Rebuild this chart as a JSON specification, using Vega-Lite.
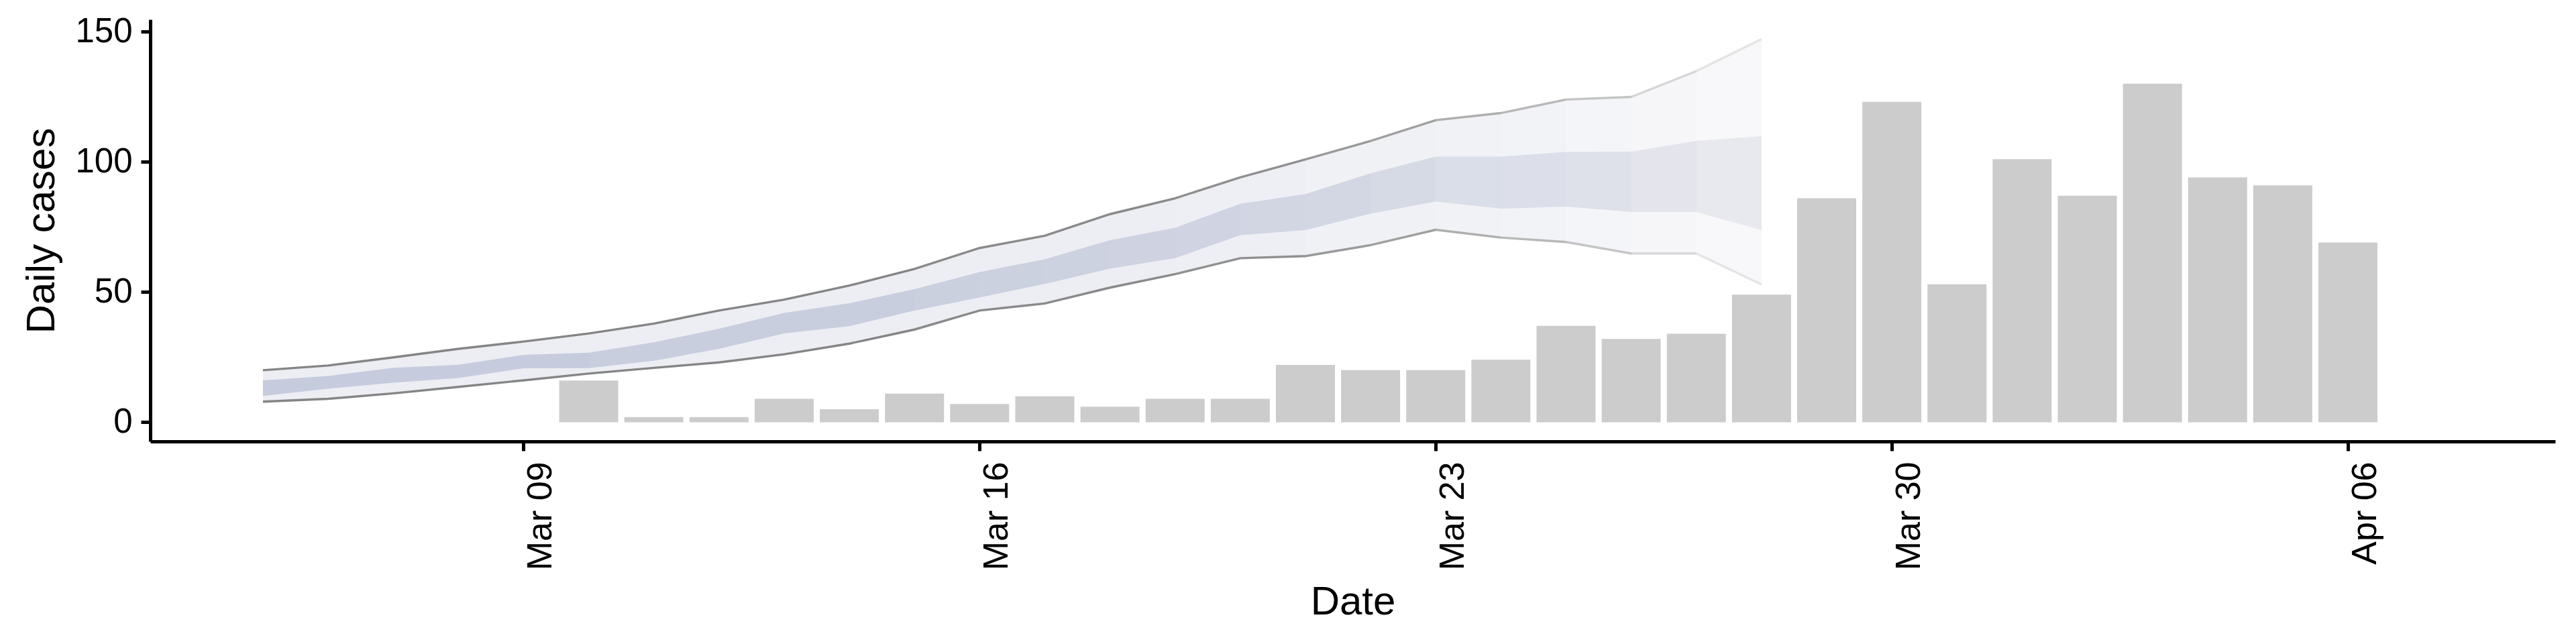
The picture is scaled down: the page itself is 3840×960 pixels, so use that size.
{
  "$schema": "https://vega.github.io/schema/vega-lite/v6.json",
  "width": 3585,
  "height": 629,
  "autosize": {"type": "none"},
  "padding": {"left": 224, "top": 29, "right": 31, "bottom": 302},
  "background": "white",
  "config": {
    "view": {"stroke": null},
    "font": "Liberation Sans",
    "axis": {
      "grid": false,
      "domainColor": "black",
      "domainWidth": 5,
      "tickColor": "black",
      "tickWidth": 5,
      "tickSize": 14,
      "labelFont": "Liberation Sans",
      "labelFontSize": 50,
      "labelColor": "black",
      "titleFont": "Liberation Sans",
      "titleFontSize": 60,
      "titleFontWeight": "normal",
      "titleColor": "black"
    }
  },
  "data": {
    "values": [
      {"date": "2020-03-05", "cases": null, "lo90": 7.9, "lo50": 10.1, "hi50": 16.1, "hi90": 20.0},
      {"date": "2020-03-06", "cases": null, "lo90": 9.0, "lo50": 12.9, "hi50": 17.8, "hi90": 21.8},
      {"date": "2020-03-07", "cases": null, "lo90": 11.1, "lo50": 15.2, "hi50": 20.9, "hi90": 24.9},
      {"date": "2020-03-08", "cases": null, "lo90": 13.6, "lo50": 17.0, "hi50": 22.1, "hi90": 28.2},
      {"date": "2020-03-09", "cases": null, "lo90": 16.1, "lo50": 20.7, "hi50": 25.9, "hi90": 31.0},
      {"date": "2020-03-10", "cases": 16, "lo90": 18.7, "lo50": 20.8, "hi50": 26.7, "hi90": 34.1},
      {"date": "2020-03-11", "cases": 2, "lo90": 20.9, "lo50": 23.6, "hi50": 30.7, "hi90": 37.9},
      {"date": "2020-03-12", "cases": 2, "lo90": 23.0, "lo50": 28.2, "hi50": 35.9, "hi90": 42.9},
      {"date": "2020-03-13", "cases": 9, "lo90": 26.1, "lo50": 34.1, "hi50": 42.0, "hi90": 47.1},
      {"date": "2020-03-14", "cases": 5, "lo90": 30.2, "lo50": 36.9, "hi50": 45.7, "hi90": 52.5},
      {"date": "2020-03-15", "cases": 11, "lo90": 35.6, "lo50": 42.9, "hi50": 51.1, "hi90": 58.9},
      {"date": "2020-03-16", "cases": 7, "lo90": 42.9, "lo50": 47.9, "hi50": 57.7, "hi90": 66.9},
      {"date": "2020-03-17", "cases": 10, "lo90": 45.6, "lo50": 53.1, "hi50": 62.6, "hi90": 71.6},
      {"date": "2020-03-18", "cases": 6, "lo90": 51.7, "lo50": 59.0, "hi50": 69.9, "hi90": 79.9},
      {"date": "2020-03-19", "cases": 9, "lo90": 56.9, "lo50": 63.0, "hi50": 74.7, "hi90": 86.0},
      {"date": "2020-03-20", "cases": 9, "lo90": 63.0, "lo50": 71.8, "hi50": 83.9, "hi90": 94.0},
      {"date": "2020-03-21", "cases": 22, "lo90": 63.8, "lo50": 73.8, "hi50": 87.6, "hi90": 100.9},
      {"date": "2020-03-22", "cases": 20, "lo90": 68.0, "lo50": 80.1, "hi50": 95.6, "hi90": 108.0},
      {"date": "2020-03-23", "cases": 20, "lo90": 73.9, "lo50": 84.7, "hi50": 102.0, "hi90": 116.0},
      {"date": "2020-03-24", "cases": 24, "lo90": 70.9, "lo50": 82.0, "hi50": 102.0, "hi90": 118.7},
      {"date": "2020-03-25", "cases": 37, "lo90": 69.2, "lo50": 82.8, "hi50": 103.8, "hi90": 123.9},
      {"date": "2020-03-26", "cases": 32, "lo90": 64.8, "lo50": 80.7, "hi50": 103.9, "hi90": 124.9},
      {"date": "2020-03-27", "cases": 34, "lo90": 64.8, "lo50": 80.7, "hi50": 108.0, "hi90": 134.8},
      {"date": "2020-03-28", "cases": 49, "lo90": 52.9, "lo50": 73.8, "hi50": 109.8, "hi90": 147.1},
      {"date": "2020-03-29", "cases": 86, "lo90": null, "lo50": null, "hi50": null, "hi90": null},
      {"date": "2020-03-30", "cases": 123, "lo90": null, "lo50": null, "hi50": null, "hi90": null},
      {"date": "2020-03-31", "cases": 53, "lo90": null, "lo50": null, "hi50": null, "hi90": null},
      {"date": "2020-04-01", "cases": 101, "lo90": null, "lo50": null, "hi50": null, "hi90": null},
      {"date": "2020-04-02", "cases": 87, "lo90": null, "lo50": null, "hi50": null, "hi90": null},
      {"date": "2020-04-03", "cases": 130, "lo90": null, "lo50": null, "hi50": null, "hi90": null},
      {"date": "2020-04-04", "cases": 94, "lo90": null, "lo50": null, "hi50": null, "hi90": null},
      {"date": "2020-04-05", "cases": 91, "lo90": null, "lo50": null, "hi50": null, "hi90": null},
      {"date": "2020-04-06", "cases": 69, "lo90": null, "lo50": null, "hi50": null, "hi90": null}
    ]
  },
  "encoding": {
    "x": {
      "field": "date",
      "type": "temporal",
      "scale": {
        "type": "utc",
        "domain": [
          {"year": 2020, "month": 3, "date": 3, "hours": 7, "minutes": 44, "utc": true},
          {"year": 2020, "month": 4, "date": 9, "hours": 3, "minutes": 7, "utc": true}
        ]
      },
      "axis": {
        "title": "Date",
        "values": [
          {"year": 2020, "month": 3, "date": 9, "utc": true},
          {"year": 2020, "month": 3, "date": 16, "utc": true},
          {"year": 2020, "month": 3, "date": 23, "utc": true},
          {"year": 2020, "month": 3, "date": 30, "utc": true},
          {"year": 2020, "month": 4, "date": 6, "utc": true}
        ],
        "format": "%b %d",
        "labelFontSize": 52,
        "titleFontSize": 60,
        "labelAngle": 270,
        "labelAlign": "right",
        "labelBaseline": "top",
        "labelPadding": 16,
        "labelFlush": false,
        "labelOverlap": false,
        "titleX": 1792.5,
        "titleY": 257,
        "titleAlign": "center",
        "titleBaseline": "alphabetic",
        "titleAnchor": null
      }
    }
  },
  "layer": [
    {
      "transform": [{"filter": "datum.cases != null"}],
      "mark": {"type": "bar", "size": 88, "color": "#CCCCCC"},
      "encoding": {
        "y": {
          "field": "cases",
          "type": "quantitative",
          "title": "Daily cases",
          "scale": {"domain": [-7.34, 154.64], "nice": false, "zero": false},
          "axis": {"values": [0, 50, 100, 150], "labelFontSize": 51, "titleFontSize": 60, "labelPadding": 13, "titleAngle": 270, "titleX": -144, "titleY": 314.5, "titleAlign": "center", "titleBaseline": "alphabetic", "titleAnchor": null}
        },
        "y2": {"datum": 0}
      }
    },
    {
      "mark": {
        "type": "area",
        "fill": {
          "gradient": "linear", "x1": 0, "y1": 0, "x2": 1, "y2": 0,
          "stops": [
            {"offset": 0, "color": "#ECEEF4"},
            {"offset": 0.43478, "color": "#ECEEF4"},
            {"offset": 0.43478, "color": "#EDEEF4"},
            {"offset": 0.6087, "color": "#EDEEF4"},
            {"offset": 0.6087, "color": "#EEEFF5"},
            {"offset": 0.69565, "color": "#EEEFF5"},
            {"offset": 0.69565, "color": "#F0F1F5"},
            {"offset": 0.78261, "color": "#F0F1F5"},
            {"offset": 0.78261, "color": "#F1F2F6"},
            {"offset": 0.82609, "color": "#F1F2F6"},
            {"offset": 0.82609, "color": "#F2F3F7"},
            {"offset": 0.86957, "color": "#F2F3F7"},
            {"offset": 0.86957, "color": "#F4F5F8"},
            {"offset": 0.91304, "color": "#F4F5F8"},
            {"offset": 0.91304, "color": "#F6F6F9"},
            {"offset": 0.95652, "color": "#F6F6F9"},
            {"offset": 0.95652, "color": "#F8F8FA"},
            {"offset": 1, "color": "#F8F8FA"}
          ]
        }
      },
      "encoding": {
        "y": {"field": "lo90", "type": "quantitative", "title": "Daily cases", "scale": {"domain": [-7.34, 154.64], "nice": false, "zero": false},
          "axis": {"values": [0, 50, 100, 150], "labelFontSize": 51, "titleFontSize": 60, "labelPadding": 13, "titleAngle": 270, "titleX": -144, "titleY": 314.5, "titleAlign": "center", "titleBaseline": "alphabetic", "titleAnchor": null}},
        "y2": {"field": "hi90"}
      }
    },
    {
      "mark": {
        "type": "area",
        "fill": {
          "gradient": "linear", "x1": 0, "y1": 0, "x2": 1, "y2": 0,
          "stops": [
            {"offset": 0, "color": "#C6CCDD"},
            {"offset": 0.21739, "color": "#C6CCDD"},
            {"offset": 0.21739, "color": "#C8CEDE"},
            {"offset": 0.43478, "color": "#C8CEDE"},
            {"offset": 0.43478, "color": "#CBD0DF"},
            {"offset": 0.47826, "color": "#CBD0DF"},
            {"offset": 0.47826, "color": "#CCD1E0"},
            {"offset": 0.52174, "color": "#CCD1E0"},
            {"offset": 0.52174, "color": "#CDD2E0"},
            {"offset": 0.56522, "color": "#CDD2E0"},
            {"offset": 0.56522, "color": "#CFD3E1"},
            {"offset": 0.6087, "color": "#CFD3E1"},
            {"offset": 0.6087, "color": "#D0D4E2"},
            {"offset": 0.65217, "color": "#D0D4E2"},
            {"offset": 0.65217, "color": "#D2D6E3"},
            {"offset": 0.69565, "color": "#D2D6E3"},
            {"offset": 0.69565, "color": "#D3D7E3"},
            {"offset": 0.73913, "color": "#D3D7E3"},
            {"offset": 0.73913, "color": "#D6DAE5"},
            {"offset": 0.78261, "color": "#D6DAE5"},
            {"offset": 0.78261, "color": "#DADEE8"},
            {"offset": 0.82609, "color": "#DADEE8"},
            {"offset": 0.82609, "color": "#DCDFE9"},
            {"offset": 0.86957, "color": "#DCDFE9"},
            {"offset": 0.86957, "color": "#DFE1EA"},
            {"offset": 0.91304, "color": "#DFE1EA"},
            {"offset": 0.91304, "color": "#E4E5EC"},
            {"offset": 0.95652, "color": "#E4E5EC"},
            {"offset": 0.95652, "color": "#E8E9EE"},
            {"offset": 1, "color": "#E8E9EE"}
          ]
        }
      },
      "encoding": {
        "y": {"field": "lo50", "type": "quantitative", "title": "Daily cases", "scale": {"domain": [-7.34, 154.64], "nice": false, "zero": false},
          "axis": {"values": [0, 50, 100, 150], "labelFontSize": 51, "titleFontSize": 60, "labelPadding": 13, "titleAngle": 270, "titleX": -144, "titleY": 314.5, "titleAlign": "center", "titleBaseline": "alphabetic", "titleAnchor": null}},
        "y2": {"field": "hi50"}
      }
    },
    {
      "mark": {
        "type": "line",
        "strokeWidth": 3.4,
        "stroke": {
          "gradient": "linear", "x1": 0, "y1": 0, "x2": 1, "y2": 0,
          "stops": [
            {"offset": 0, "color": "#858585"},
            {"offset": 0.43478, "color": "#858585"},
            {"offset": 0.43478, "color": "#8A8A8A"},
            {"offset": 0.6087, "color": "#8A8A8A"},
            {"offset": 0.6087, "color": "#909090"},
            {"offset": 0.69565, "color": "#909090"},
            {"offset": 0.69565, "color": "#999999"},
            {"offset": 0.73913, "color": "#999999"},
            {"offset": 0.73913, "color": "#A0A0A0"},
            {"offset": 0.78261, "color": "#A0A0A0"},
            {"offset": 0.78261, "color": "#AEAEAE"},
            {"offset": 0.82609, "color": "#AEAEAE"},
            {"offset": 0.82609, "color": "#B8B8B8"},
            {"offset": 0.86957, "color": "#B8B8B8"},
            {"offset": 0.86957, "color": "#C4C4C4"},
            {"offset": 0.91304, "color": "#C4C4C4"},
            {"offset": 0.91304, "color": "#D6D6D6"},
            {"offset": 0.95652, "color": "#D6D6D6"},
            {"offset": 0.95652, "color": "#E4E4E4"},
            {"offset": 1, "color": "#E4E4E4"}
          ]
        }
      },
      "encoding": {
        "y": {"field": "hi90", "type": "quantitative", "title": "Daily cases", "scale": {"domain": [-7.34, 154.64], "nice": false, "zero": false},
          "axis": {"values": [0, 50, 100, 150], "labelFontSize": 51, "titleFontSize": 60, "labelPadding": 13, "titleAngle": 270, "titleX": -144, "titleY": 314.5, "titleAlign": "center", "titleBaseline": "alphabetic", "titleAnchor": null}}
      }
    },
    {
      "mark": {
        "type": "line",
        "strokeWidth": 3.4,
        "stroke": {
          "gradient": "linear", "x1": 0, "y1": 0, "x2": 1, "y2": 0,
          "stops": [
            {"offset": 0, "color": "#858585"},
            {"offset": 0.43478, "color": "#858585"},
            {"offset": 0.43478, "color": "#8A8A8A"},
            {"offset": 0.6087, "color": "#8A8A8A"},
            {"offset": 0.6087, "color": "#909090"},
            {"offset": 0.69565, "color": "#909090"},
            {"offset": 0.69565, "color": "#999999"},
            {"offset": 0.73913, "color": "#999999"},
            {"offset": 0.73913, "color": "#A0A0A0"},
            {"offset": 0.78261, "color": "#A0A0A0"},
            {"offset": 0.78261, "color": "#AEAEAE"},
            {"offset": 0.82609, "color": "#AEAEAE"},
            {"offset": 0.82609, "color": "#B8B8B8"},
            {"offset": 0.86957, "color": "#B8B8B8"},
            {"offset": 0.86957, "color": "#C4C4C4"},
            {"offset": 0.91304, "color": "#C4C4C4"},
            {"offset": 0.91304, "color": "#D6D6D6"},
            {"offset": 0.95652, "color": "#D6D6D6"},
            {"offset": 0.95652, "color": "#E4E4E4"},
            {"offset": 1, "color": "#E4E4E4"}
          ]
        }
      },
      "encoding": {
        "y": {"field": "lo90", "type": "quantitative", "title": "Daily cases", "scale": {"domain": [-7.34, 154.64], "nice": false, "zero": false},
          "axis": {"values": [0, 50, 100, 150], "labelFontSize": 51, "titleFontSize": 60, "labelPadding": 13, "titleAngle": 270, "titleX": -144, "titleY": 314.5, "titleAlign": "center", "titleBaseline": "alphabetic", "titleAnchor": null}}
      }
    }
  ]
}
